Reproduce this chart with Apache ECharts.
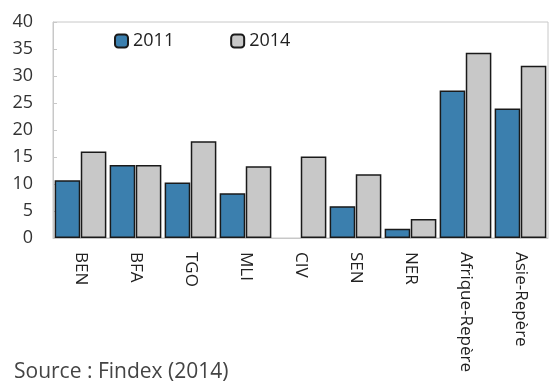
<!DOCTYPE html>
<html><head><meta charset="utf-8">
<script src="https://cdn.jsdelivr.net/npm/echarts@6/dist/echarts.min.js"></script>
<style>html,body{margin:0;padding:0;background:#fff}#c{width:550px;height:390px}</style>
</head><body><div id="c"></div>
<script>
const categories = ["BEN","BFA","TGO","MLI","CIV","SEN","NER","Afrique-Repère","Asie-Repère"];
const seriesNames = ["2011","2014"];
const values2011 = [10.7,13.5,10.3,8.3,0,5.9,1.7,27.3,24.0];
const values2014 = [16.0,13.5,17.9,13.3,15.1,11.8,3.5,34.3,31.9];
const yTicks = {min:0,max:40,interval:5};
const sourceText = "Source : Findex (2014)";

const chart = echarts.init(document.getElementById('c'));
const font = "'Open Sans', 'Noto Sans', sans-serif";
const toData = arr => arr.map(v => v === 0 ? {value:v,itemStyle:{borderWidth:0}} : v);
chart.setOption({
  animation:false,
  textStyle:{fontFamily:font},
  grid:{left:53,right:2,top:22,bottom:152,show:true,borderColor:'#c8c8c8',borderWidth:1},
  legend:{left:109,top:27,itemWidth:13,itemHeight:13,itemGap:56,
    textStyle:{fontSize:18,color:'#222',fontFamily:font},
    data:seriesNames},
  xAxis:{type:'category',data:categories,
    axisLine:{lineStyle:{color:'#c8c8c8'}},axisTick:{show:false},
    axisLabel:{rotate:-90,fontSize:17,color:'#222',margin:14,interval:0,fontFamily:font}},
  yAxis:{type:'value',min:yTicks.min,max:yTicks.max,interval:yTicks.interval,
    splitLine:{show:false},axisLine:{show:true,lineStyle:{color:'#c8c8c8'}},
    axisTick:{show:true,inside:true,length:4,lineStyle:{color:'#c8c8c8'}},
    axisLabel:{fontSize:18,color:'#333',margin:20,fontFamily:font}},
  graphic:[{type:'text',left:14,top:362,style:{text:sourceText,fontSize:21,fill:'#444',fontFamily:font}}],
  series:[
    {name:seriesNames[0],type:'bar',data:toData(values2011),barGap:'2%',barCategoryGap:'6%',
      itemStyle:{color:'#3b7fae',borderColor:'#1a1a1a',borderWidth:1.5}},
    {name:seriesNames[1],type:'bar',data:toData(values2014),
      itemStyle:{color:'#c8c8c8',borderColor:'#1a1a1a',borderWidth:1.5}}
  ]
});
</script></body></html>
